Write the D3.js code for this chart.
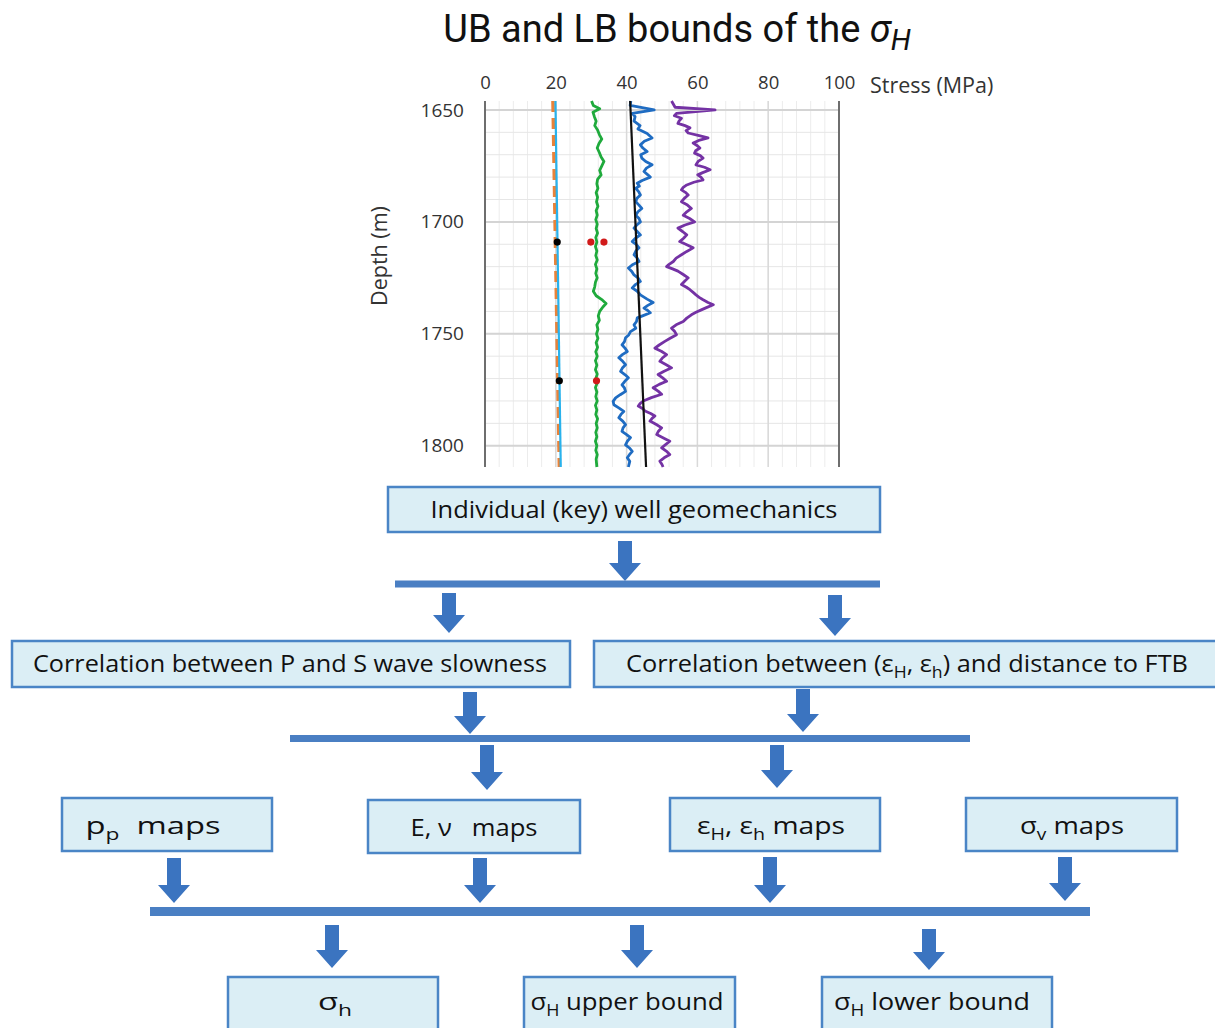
<!DOCTYPE html>
<html>
<head>
<meta charset="utf-8">
<script src="https://cdn.jsdelivr.net/npm/d3@7"></script>
<style>
  html, body { margin: 0; padding: 0; background: #fff; }
  svg { display: block; }
</style>
</head>
<body>
<div id="chart"></div>
<script>
// stress log data: [depth (m), stress (MPa)]
const ppLine = [[1646, 19.2], [1809.5, 21.0]];
const hydroLine = [[1646, 19.9], [1809.5, 21.4]];
const svLine = [[1646, 41.0], [1809.5, 45.5]];
const blackDots = [[1709, 20.4], [1771, 21.0]];
const redDots = [[1709, 29.9], [1709, 33.6], [1771, 31.5]];

const shminLog = [
  [1646, 30.1], [1648, 30.6], [1649.5, 32.4], [1651, 30.5], [1653, 30.9], [1655, 31.4], [1657, 31.0],
  [1659, 31.8], [1661, 32.3], [1663, 33.0], [1665, 32.2], [1667, 31.7], [1669, 32.3], [1671, 32.8],
  [1673, 33.6], [1675, 33.0], [1677, 32.4], [1679, 32.8], [1681, 31.8], [1683, 31.6], [1685, 31.9],
  [1687, 31.4], [1689, 31.8], [1691, 31.5], [1693, 31.9], [1695, 31.4], [1697, 31.7], [1699, 31.3],
  [1701, 31.7], [1703, 31.4], [1705, 31.8], [1707, 31.3], [1709, 31.6], [1711, 31.2], [1713, 31.6],
  [1715, 31.3], [1717, 31.7], [1719, 31.2], [1721, 31.6], [1723, 31.3], [1725, 31.7], [1727, 31.2],
  [1729, 31.0], [1731, 30.6], [1733, 31.4], [1735, 33.2], [1736.5, 34.2], [1738, 33.3], [1740, 32.4],
  [1742, 32.0], [1744, 32.3], [1746, 31.6], [1748, 31.9], [1750, 31.5], [1752, 31.9], [1754, 31.4],
  [1756, 31.8], [1758, 31.3], [1760, 31.7], [1762, 31.2], [1764, 31.6], [1766, 31.2], [1768, 31.7],
  [1770, 31.3], [1772, 31.7], [1774, 31.2], [1776, 31.6], [1778, 31.3], [1780, 31.7], [1782, 31.2],
  [1784, 31.6], [1786, 31.3], [1788, 31.8], [1790, 31.4], [1792, 31.7], [1794, 31.3], [1796, 31.6],
  [1798, 31.2], [1800, 31.6], [1802, 31.3], [1804, 31.7], [1806, 31.4], [1809.5, 31.6]
];

const lowerBoundLog = [
  [1646, 41.2], [1648, 41.0], [1650, 47.8], [1651.5, 41.6], [1653, 42.4], [1655, 42.1], [1657, 43.8],
  [1658.5, 43.2], [1660.5, 45.8], [1662.5, 47.2], [1664, 45.0], [1665.6, 43.9], [1667, 44.6],
  [1668.6, 45.8], [1670, 44.0], [1671.5, 44.3], [1673, 45.4], [1674.5, 47.2], [1676, 45.6],
  [1677.5, 44.9], [1679, 46.0], [1680, 46.7], [1681.5, 44.4], [1682.7, 43.0], [1684, 43.6],
  [1685, 42.6], [1686.5, 43.4], [1688, 43.9], [1689.5, 42.9], [1691, 42.6], [1692.5, 43.5],
  [1694, 44.3], [1695.5, 43.2], [1697, 42.6], [1698.5, 43.5], [1700, 43.9], [1701.5, 42.8],
  [1702.8, 42.1], [1704.3, 43.0], [1705.8, 43.9], [1707.3, 42.5], [1708.8, 41.6], [1710.2, 42.8],
  [1711.6, 43.5], [1713, 42.6], [1714.7, 42.1], [1716.2, 43.0], [1717.7, 43.5], [1719, 41.8],
  [1720.6, 40.5], [1722, 41.4], [1723.7, 42.1], [1725, 43.2], [1726.6, 43.9], [1728, 42.5],
  [1729.5, 41.6], [1731, 43.0], [1732.6, 43.9], [1734.5, 45.8], [1736, 47.5], [1737.3, 46.0],
  [1738.5, 44.9], [1739.5, 45.9], [1740.6, 46.7], [1742, 44.5], [1742.9, 43.0], [1744.5, 42.8],
  [1746, 42.1], [1747.5, 42.6], [1749, 41.1], [1750.5, 40.6], [1751.8, 39.7], [1753.5, 39.4],
  [1754.9, 38.7], [1756.5, 39.6], [1757.9, 40.2], [1759.3, 38.8], [1760.7, 37.8], [1762.3, 38.9],
  [1763.8, 39.7], [1765.3, 38.8], [1766.8, 38.3], [1768.3, 39.6], [1769.6, 40.5], [1771.2, 39.5],
  [1772.8, 38.7], [1774.2, 39.4], [1775.7, 39.7], [1777.2, 38.2], [1778.6, 36.9], [1780.2, 36.2],
  [1781.7, 36.4], [1783.2, 37.9], [1784.7, 39.2], [1786, 38.4], [1787.5, 37.8], [1789, 38.9],
  [1790.6, 39.7], [1792, 39.0], [1793.6, 38.7], [1795, 40.0], [1796.4, 41.1], [1798, 40.2],
  [1799.6, 39.7], [1801, 40.8], [1802.5, 41.6], [1804, 40.8], [1805.4, 40.2], [1807, 40.9],
  [1809.5, 40.5]
];

const upperBoundLog = [
  [1646, 52.7], [1648.8, 53.7], [1650, 65.0], [1651.5, 54.1], [1652.6, 53.5], [1653.7, 55.5],
  [1655, 54.8], [1656, 54.5], [1657, 56.5], [1658, 57.9], [1659.2, 56.8], [1660.3, 57.4],
  [1661.5, 60.5], [1662.5, 63.0], [1663.6, 60.4], [1664.8, 58.8], [1666, 60.0], [1667, 60.7],
  [1668.2, 59.5], [1669.3, 59.2], [1670.4, 60.8], [1671.5, 61.6], [1673, 60.2], [1674.5, 59.6],
  [1675.6, 62.0], [1676.7, 63.6], [1678, 61.5], [1679, 60.1], [1680, 61.0], [1681.2, 61.6],
  [1682.3, 59.0], [1683.5, 57.0], [1684.6, 56.0], [1685.7, 55.5], [1686.8, 56.6], [1688, 57.4],
  [1689.5, 56.3], [1691, 55.5], [1692.5, 57.2], [1694, 58.3], [1695.5, 57.0], [1697, 56.0],
  [1698.5, 57.8], [1700, 59.2], [1701.4, 56.5], [1702.8, 54.5], [1704.3, 55.8], [1705.8, 57.0],
  [1707.3, 56.1], [1708.8, 55.0], [1710.2, 57.0], [1711.6, 58.8], [1713.2, 57.0], [1714.7, 55.5],
  [1716.2, 54.0], [1717.7, 53.2], [1719, 52.0], [1720, 51.3], [1721, 53.0], [1722, 54.5],
  [1723.5, 56.0], [1725, 57.4], [1726.5, 56.4], [1728, 55.5], [1729.2, 56.9], [1730.3, 57.9],
  [1731.5, 58.8], [1732.6, 59.6], [1733.7, 60.5], [1734.8, 61.6], [1736, 63.0], [1737, 64.5],
  [1738.2, 62.7], [1739.3, 61.1], [1740.4, 59.6], [1741.5, 58.3], [1743, 57.0], [1744.5, 56.0],
  [1746, 54.0], [1747.5, 52.7], [1749, 53.6], [1750.4, 54.1], [1752, 52.3], [1753.4, 50.8],
  [1755, 49.2], [1756.4, 48.0], [1757.8, 49.8], [1759.3, 51.3], [1760.8, 50.1], [1762.3, 49.4],
  [1763.8, 51.2], [1765.2, 52.7], [1766.7, 50.6], [1768.2, 48.9], [1769.7, 50.2], [1771.2, 51.3],
  [1772.6, 49.2], [1774.1, 47.5], [1775.6, 48.9], [1777, 49.9], [1778.5, 47.0], [1780, 44.7],
  [1781.2, 43.8], [1782.3, 43.3], [1783.4, 44.5], [1784.5, 45.2], [1785.6, 46.8], [1786.7, 48.0],
  [1787.8, 47.2], [1789, 46.6], [1790.5, 48.4], [1792, 49.9], [1793.5, 49.0], [1795, 48.5],
  [1796.5, 50.4], [1798, 52.2], [1799.5, 51.0], [1800.9, 49.9], [1802.4, 51.2], [1803.9, 52.2],
  [1805.4, 50.6], [1806.9, 49.4], [1808.4, 50.0], [1809.5, 50.3]
];

const stressTicks = [0, 20, 40, 60, 80, 100];
const depthTicks = [1650, 1700, 1750, 1800];

// flowchart labels: each label is a list of [text, 'sub' | ''] segments
const topBox = [['Individual (key) well geomechanics', '']];
const correlationBoxes = [
  [['Correlation between P and S wave slowness', '']],
  [['Correlation between (ε', ''], ['H', 'sub'], [', ε', ''], ['h', 'sub'], [') and distance to FTB', '']]
];
const mapBoxes = [
  [['p', ''], ['p', 'sub'], ['  maps', '']],
  [['E, ν   maps', '']],
  [['ε', ''], ['H', 'sub'], [', ε', ''], ['h', 'sub'], [' maps', '']],
  [['σ', ''], ['v', 'sub'], [' maps', '']]
];
const resultBoxes = [
  [['σ', ''], ['h', 'sub']],
  [['σ', ''], ['H', 'sub'], [' upper bound', '']],
  [['σ', ''], ['H', 'sub'], [' lower bound', '']]
];

const width = 1215;
const height = 1028;

const svg = d3.select('#chart')
  .append('svg')
  .attr('width', width)
  .attr('height', height)
  .attr('viewBox', [0, 0, width, height]);

// ---------- log plot ----------
const x = d3.scaleLinear().domain([0, 100]).range([485, 839]);
const y = d3.scaleLinear().domain([1646, 1809.5]).range([101, 467]);

const grid = svg.append('g');

// minor gridlines
grid.selectAll('.vminor')
  .data(d3.range(0, 101, 4))
  .enter()
  .append('line')
  .attr('x1', (d) => x(d)).attr('x2', (d) => x(d))
  .attr('y1', y.range()[0]).attr('y2', y.range()[1])
  .attr('stroke', '#ececec')
  .attr('stroke-width', 1);

grid.selectAll('.hminor')
  .data(d3.range(1650, 1810, 10))
  .enter()
  .append('line')
  .attr('x1', x(0)).attr('x2', x(100))
  .attr('y1', (d) => y(d)).attr('y2', (d) => y(d))
  .attr('stroke', '#e6e6e6')
  .attr('stroke-width', 1);

// major gridlines
grid.selectAll('.vmajor')
  .data(stressTicks.slice(1, -1))
  .enter()
  .append('line')
  .attr('x1', (d) => x(d)).attr('x2', (d) => x(d))
  .attr('y1', y.range()[0]).attr('y2', y.range()[1])
  .attr('stroke', '#d9d9d9')
  .attr('stroke-width', 1.5);

grid.selectAll('.hmajor')
  .data(depthTicks)
  .enter()
  .append('line')
  .attr('x1', x(0)).attr('x2', x(100))
  .attr('y1', (d) => y(d)).attr('y2', (d) => y(d))
  .attr('stroke', '#d4d4d4')
  .attr('stroke-width', 2);

// left axis and right border
[0, 100].forEach((v) => {
  grid.append('line')
    .attr('x1', x(v)).attr('x2', x(v))
    .attr('y1', y.range()[0]).attr('y2', y.range()[1])
    .attr('stroke', '#6e6e6e')
    .attr('stroke-width', 2);
});

// axes
const xAxis = svg.append('g')
  .attr('transform', `translate(0,${y.range()[0] - 9})`)
  .call(d3.axisTop(x).tickValues(stressTicks).tickSize(0));
xAxis.select('.domain').remove();
xAxis.selectAll('text')
  .attr('font-family', 'Open Sans, sans-serif')
  .attr('font-size', 18.5)
  .attr('fill', '#333');

const yAxis = svg.append('g')
  .attr('transform', `translate(${x(0) - 18},0)`)
  .call(d3.axisLeft(y).tickValues(depthTicks).tickSize(0).tickFormat(d3.format('d')));
yAxis.select('.domain').remove();
yAxis.selectAll('text')
  .attr('font-family', 'Open Sans, sans-serif')
  .attr('font-size', 19)
  .attr('fill', '#333');

svg.append('text')
  .attr('x', 870)
  .attr('y', 93)
  .attr('font-family', 'Open Sans, sans-serif')
  .attr('font-size', 21.5)
  .attr('fill', '#333')
  .text('Stress (MPa)');

svg.append('text')
  .attr('transform', 'translate(387,256) rotate(-90)')
  .attr('text-anchor', 'middle')
  .attr('font-family', 'Open Sans, sans-serif')
  .attr('font-size', 21.5)
  .attr('fill', '#333')
  .text('Depth (m)');

// title
const title = svg.append('text')
  .attr('x', 677)
  .attr('y', 42)
  .attr('text-anchor', 'middle')
  .attr('font-family', 'Roboto, sans-serif')
  .attr('font-size', 38)
  .attr('fill', '#111');
title.append('tspan').text('UB and LB bounds of the ');
title.append('tspan').attr('font-style', 'italic').text('σ');
title.append('tspan').attr('font-style', 'italic').attr('font-size', 29).attr('dy', 8).text('H');

// curves
const line = d3.line()
  .x((d) => x(d[1]))
  .y((d) => y(d[0]));

const curves = svg.append('g').attr('fill', 'none').attr('stroke-linejoin', 'round');

curves.append('path')
  .datum(ppLine)
  .attr('d', line)
  .attr('stroke', '#e8833a')
  .attr('stroke-width', 3.5)
  .attr('stroke-dasharray', '11,6');

curves.append('path')
  .datum(hydroLine)
  .attr('d', line)
  .attr('stroke', '#29b2ec')
  .attr('stroke-width', 2.2);

curves.append('path')
  .datum(shminLog)
  .attr('d', line)
  .attr('stroke', '#1faa3c')
  .attr('stroke-width', 2.8);

curves.append('path')
  .datum(lowerBoundLog)
  .attr('d', line)
  .attr('stroke', '#1f6cc2')
  .attr('stroke-width', 2.8);

curves.append('path')
  .datum(upperBoundLog)
  .attr('d', line)
  .attr('stroke', '#7432a4')
  .attr('stroke-width', 2.8);

curves.append('path')
  .datum(svLine)
  .attr('d', line)
  .attr('stroke', '#111')
  .attr('stroke-width', 2.2);

svg.selectAll('.bdot')
  .data(blackDots)
  .enter()
  .append('circle')
  .attr('cx', (d) => x(d[1]))
  .attr('cy', (d) => y(d[0]))
  .attr('r', 3.6)
  .attr('fill', '#000');

svg.selectAll('.rdot')
  .data(redDots)
  .enter()
  .append('circle')
  .attr('cx', (d) => x(d[1]))
  .attr('cy', (d) => y(d[0]))
  .attr('r', 3.6)
  .attr('fill', '#d11a1a');

// ---------- flowchart ----------
const boxFill = '#dbeef5';
const boxStroke = '#4a85c6';
const arrowColor = '#3b74c0';

const flow = svg.append('g');

function drawBox(label, b) {
  flow.append('rect')
    .attr('x', b.x).attr('y', b.y)
    .attr('width', b.w).attr('height', b.h)
    .attr('fill', boxFill)
    .attr('stroke', boxStroke)
    .attr('stroke-width', 2.5);

  // alphabetic baseline placed so caps sit centred on ty
  const t = flow.append('text')
    .attr('x', b.tx)
    .attr('y', b.ty + 8)
    .attr('text-anchor', 'middle')
    .attr('font-family', 'Open Sans, sans-serif')
    .attr('font-size', 23)
    .attr('fill', '#111')
    .attr('textLength', b.tw)
    .attr('lengthAdjust', 'spacingAndGlyphs')
    .style('white-space', 'pre');

  let shifted = false;
  label.forEach(([s, kind]) => {
    const ts = t.append('tspan').text(s);
    if (kind === 'sub') {
      ts.attr('font-size', 16).attr('dy', 6);
      shifted = true;
    } else if (shifted) {
      ts.attr('dy', -6);
      shifted = false;
    }
  });
}

function drawArrow(cx, y0, y1) {
  const sw = 7;
  const hw = 16;
  const hh = 18;
  const pts = [
    [cx - sw, y0], [cx + sw, y0], [cx + sw, y1 - hh], [cx + hw, y1 - hh],
    [cx, y1], [cx - hw, y1 - hh], [cx - sw, y1 - hh]
  ];
  flow.append('path')
    .attr('d', d3.line()(pts) + 'Z')
    .attr('fill', arrowColor);
}

function drawBar(x0, x1, yc, th) {
  flow.append('rect')
    .attr('x', x0).attr('y', yc - th / 2)
    .attr('width', x1 - x0).attr('height', th)
    .attr('fill', '#4a7fc3');
}

drawBox(topBox, { x: 388, y: 487, w: 492, h: 45, tx: 634, ty: 510, tw: 407 });
drawArrow(625, 541, 581);
drawBar(395, 880, 584, 7);
drawArrow(449, 593, 633);
drawArrow(835, 595, 636);

const corrLayout = [
  { x: 12, y: 641, w: 558, h: 46, tx: 290, ty: 664, tw: 514 },
  { x: 594, y: 641, w: 640, h: 46, tx: 907, ty: 664, tw: 562 }
];
correlationBoxes.forEach((lb, i) => drawBox(lb, corrLayout[i]));

drawArrow(470, 692, 734);
drawArrow(803, 689, 732);
drawBar(290, 970, 738.5, 7);
drawArrow(487, 745, 790);
drawArrow(777, 745, 788);

const mapLayout = [
  { x: 62, y: 798, w: 210, h: 53, tx: 153, ty: 826, tw: 135 },
  { x: 368, y: 800, w: 212, h: 53, tx: 474, ty: 828, tw: 127 },
  { x: 670, y: 798, w: 210, h: 53, tx: 771, ty: 826, tw: 148 },
  { x: 966, y: 798, w: 211, h: 53, tx: 1072, ty: 826, tw: 104 }
];
mapBoxes.forEach((lb, i) => drawBox(lb, mapLayout[i]));

drawArrow(174, 858, 903);
drawArrow(480, 858, 903);
drawArrow(770, 857, 903);
drawArrow(1065, 857, 901);
drawBar(150, 1090, 911.5, 9);
drawArrow(332, 925, 968);
drawArrow(637, 925, 968);
drawArrow(929, 929, 970);

const resultLayout = [
  { x: 228, y: 977, w: 210, h: 60, tx: 335, ty: 1002, tw: 34 },
  { x: 524, y: 977, w: 211, h: 60, tx: 627, ty: 1002, tw: 193 },
  { x: 822, y: 977, w: 230, h: 60, tx: 932, ty: 1002, tw: 196 }
];
resultBoxes.forEach((lb, i) => drawBox(lb, resultLayout[i]));
</script>
</body>
</html>
